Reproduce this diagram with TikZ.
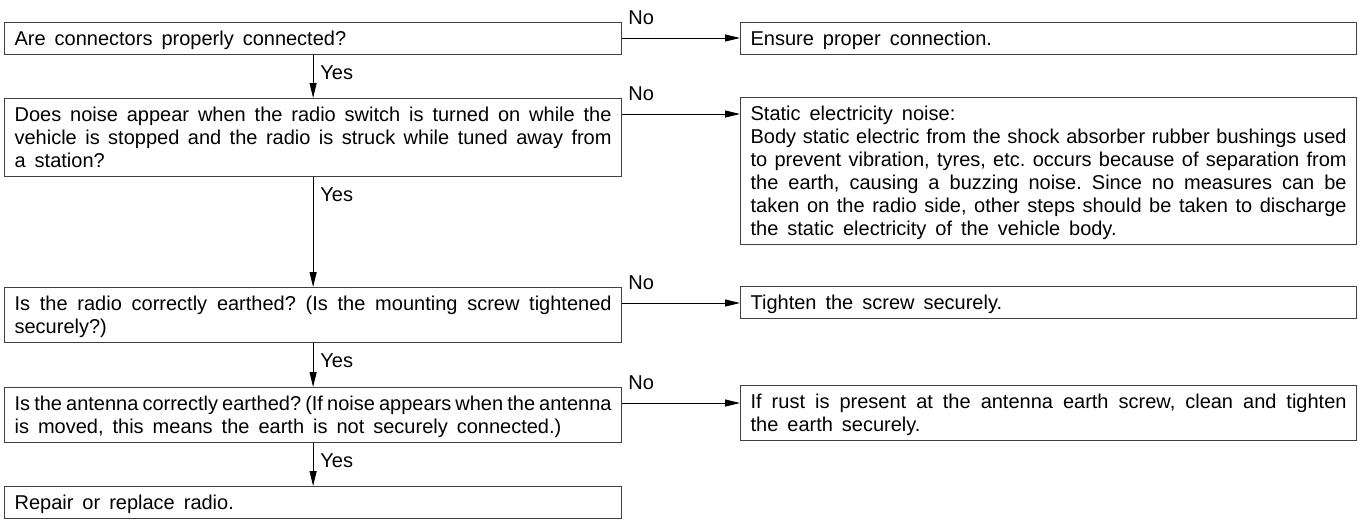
\documentclass[tikz,border=0pt]{standalone}
\usepackage{fontspec}
\setmainfont{Liberation Sans}
\usetikzlibrary{arrows.meta}
\newcommand\mystrut{\rule[-3.75pt]{0pt}{17.25pt}}
\frenchspacing
\begin{document}
\begin{tikzpicture}[x=0.75pt,y=-0.75pt,
  font=\fontsize{15}{17.25}\selectfont,
  box/.style={draw=black!75, line width=0.9pt, anchor=north west,
    inner xsep=7.5pt, inner ysep=3.375pt, align=justify,
    execute at begin node={\hyphenpenalty=10000\spaceskip=0.45em plus 0.3em minus 0.22em\mystrut},
    execute at end node={\mystrut}},
  lbox/.style={box, text width=447.75pt},
  rbox/.style={box, text width=447pt},
  arr/.style={line width=0.75pt, -{Triangle[length=11.25pt,width=5.25pt]}},
  lbl/.style={inner sep=0pt, anchor=base west}]
\useasboundingbox (0,0) rectangle (1362,519);

\node[lbox] (A) at (4,22) {Are connectors properly connected?};
\node[lbox] (B) at (4,98) {Does noise appear when the radio switch is turned on while the\linebreak vehicle is stopped and the radio is struck while tuned away from\linebreak a station?};
\node[lbox] (C) at (4,287) {Is the radio correctly earthed? (Is the mounting screw tightened\linebreak securely?)};
\node[lbox] (D) at (4,387) {\hbox to\linewidth{\spaceskip=0.5pt plus 1fil Is the antenna correctly earthed? (If noise appears when the antenna}\break is moved, this means the earth is not securely connected.)};
\node[lbox] (E) at (4,486) {Repair or replace radio.};

\node[rbox] (R1) at (740,22) {Ensure proper connection.};
\node[rbox] (R2) at (740,97) {Static electricity noise:\\Body static electric from the shock absorber rubber bushings used\linebreak to prevent vibration, tyres, etc. occurs because of separation from\linebreak the earth, causing a buzzing noise. Since no measures can be\linebreak taken on the radio side, other steps should be taken to discharge\linebreak the static electricity of the vehicle body.};
\node[rbox] (R3) at (740,286) {Tighten the screw securely.};
\node[rbox] (R4) at (740,385) {If rust is present at the antenna earth screw, clean and tighten\linebreak the earth securely.};

% Yes arrows
\draw[arr] (A.south) -- (B.north);
\draw[arr] (B.south) -- (C.north);
\draw[arr] (C.south) -- (D.north);
\draw[arr] (D.south) -- (E.north);
\foreach \n in {A,B,C,D}
  \node[lbl] (yes\n) at ([xshift=5.25pt,yshift=-18pt]\n.south) {Yes};

% No arrows
\foreach \s/\t in {A/R1,B/R2,C/R3,D/R4}{
  \draw[arr] ([yshift=-12pt]\s.north east) -- ([yshift=-12pt]\s.north east -| \t.west);
  \node[lbl] (no\s) at ([xshift=4.5pt,yshift=-1.5pt]\s.north east) {No};
}
\end{tikzpicture}
\end{document}
